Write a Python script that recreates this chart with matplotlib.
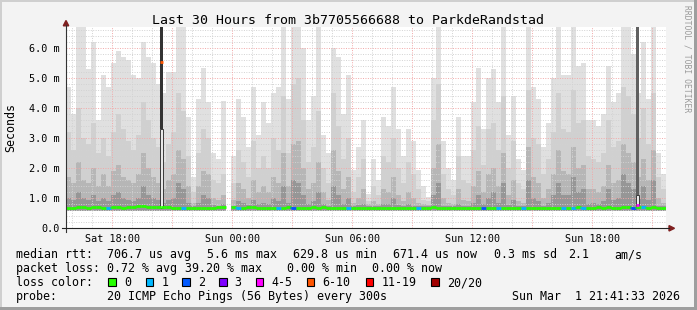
import numpy as np
import matplotlib
matplotlib.use("Agg")
import matplotlib.pyplot as plt
from matplotlib.patches import Rectangle, Polygon
from matplotlib.lines import Line2D

nan = float("nan")

# ------------------------------------------------------------------ data
title = "Last 30 Hours from 3b7705566688 to ParkdeRandstad"
start_clock_h = 15 + 41 / 60 + 33 / 3600      # Sat 15:41:33
span_h = 30
bin_h = 0.25                                   # 15 minute bins
y_top_ms = 6.7

# smoke layers (ms), lightest/outer first
smoke_max_ms = [
    4.7, 3.8, 6.7, 6.7, 5.3, 6.2, 3.6, 5.1, 4.7, 5.5,
    5.9, 5.7, 5.6, 5.1, 5.0, 6.2, 5.7, 5.5, 4.8, 4.5,
    5.2, 5.2, 6.7, 6.7, 3.7, 1.7, 4.3, 5.35, 4.2, 2.5,
    2.3, 4.25, nan, 2.4, 4.3, 3.7, 2.7, 4.7, 3.1, 4.2,
    3.5, 4.5, 4.7, 6.7, 4.3, 6.7, 6.7, 6.0, 3.6, 4.4,
    6.7, 3.1, 2.5, 6.0, 5.7, 3.8, 5.1, 1.95, 2.7, 3.6,
    1.15, 2.3, 1.6, 3.7, 3.4, 4.7, 3.3, 2.4, 3.3, 2.9,
    1.95, 1.4, 1.05, 5.0, 6.7, 2.9, 2.0, 1.6, 3.7, 2.4,
    2.4, 4.2, 5.35, 3.3, 5.0, 5.3, 4.2, 6.7, 3.1, 4.4,
    2.3, 1.95, 6.7, 4.7, 4.3, 2.7, 3.5, 5.0, 6.7, 5.1,
    5.1, 6.7, 5.4, 5.5, 3.6, 3.6, 3.4, 3.8, 5.4, 4.2,
    4.5, 6.7, 6.7, 5.8, 4.5, 6.2, 4.3, 6.7, 2.5, 1.8,
]
smoke_p2_ms = [
    3.2, 2.6, 4.0, 3.0, 2.8, 3.5, 2.5, 3.0, 2.4, 3.2,
    3.8, 3.3, 2.9, 2.6, 3.1, 4.2, 3.6, 3.0, 2.7, 2.2,
    2.8, 3.2, 4.5, 3.9, 2.4, 1.2, 2.5, 3.3, 3.0, 1.6,
    1.5, 1.8, nan, 1.5, 2.6, 2.2, 1.7, 2.9, 2.0, 2.4,
    2.0, 3.0, 2.6, 4.4, 2.5, 4.8, 5.0, 3.6, 2.2, 2.7,
    3.9, 2.0, 1.5, 4.5, 3.4, 2.3, 3.0, 1.2, 1.7, 2.3,
    0.9, 1.4, 1.1, 2.4, 2.2, 3.0, 2.0, 1.5, 2.2, 1.8,
    1.3, 0.95, 0.9, 3.6, 4.8, 1.8, 1.3, 1.1, 2.4, 1.6,
    1.5, 2.6, 3.4, 2.1, 3.3, 3.5, 2.6, 4.4, 2.0, 2.9,
    1.5, 1.3, 4.6, 3.0, 2.8, 1.8, 2.3, 3.2, 4.5, 3.3,
    3.2, 4.6, 3.5, 3.6, 2.4, 2.3, 2.2, 2.5, 3.6, 2.7,
    2.9, 4.7, 4.4, 3.8, 3.0, 4.0, 2.8, 4.5, 1.7, 1.3,
]
smoke_p3_ms = [
    1.7, 1.5, 2.2, 1.6, 1.5, 2.0, 1.4, 1.8, 1.4, 1.9,
    2.1, 1.7, 1.6, 1.5, 1.8, 2.5, 2.0, 1.7, 1.5, 1.3,
    1.6, 1.8, 2.6, 2.3, 1.4, 0.85, 1.4, 1.9, 1.8, 1.0,
    0.95, 1.1, nan, 0.95, 1.5, 1.3, 1.0, 1.6, 1.2, 1.4,
    1.2, 1.7, 1.5, 2.5, 1.4, 2.8, 2.9, 2.0, 1.3, 1.5,
    2.2, 1.2, 0.95, 2.6, 1.9, 1.3, 1.7, 0.85, 1.0, 1.3,
    0.8, 0.9, 0.8, 1.3, 1.2, 1.7, 1.1, 0.9, 1.2, 1.0,
    0.85, 0.8, 0.78, 2.0, 2.8, 1.0, 0.85, 0.8, 1.3, 0.95,
    0.9, 1.4, 1.9, 1.2, 1.8, 2.0, 1.4, 2.5, 1.1, 1.6,
    0.9, 0.85, 2.7, 1.7, 1.5, 1.0, 1.3, 1.8, 2.6, 1.9,
    1.8, 2.7, 2.0, 2.1, 1.3, 1.3, 1.2, 1.4, 2.1, 1.5,
    1.6, 2.8, 2.5, 2.2, 1.7, 2.3, 1.6, 2.6, 1.0, 0.85,
]
smoke_p4_ms = [
    1.0, 0.95, 1.2, 1.0, 0.95, 1.1, 0.9, 1.0, 0.9, 1.1,
    1.2, 1.0, 0.95, 0.9, 1.0, 1.4, 1.1, 1.0, 0.95, 0.85,
    0.95, 1.0, 1.5, 1.3, 0.85, 0.75, 0.85, 1.1, 1.0, 0.78,
    0.76, 0.8, nan, 0.76, 0.9, 0.85, 0.78, 0.95, 0.8, 0.85,
    0.8, 1.0, 0.9, 1.4, 0.85, 1.6, 1.5, 1.1, 0.8, 0.9,
    1.2, 0.8, 0.76, 1.4, 1.1, 0.8, 1.0, 0.75, 0.77, 0.8,
    0.74, 0.75, 0.74, 0.8, 0.8, 1.0, 0.78, 0.75, 0.8, 0.76,
    0.74, 0.74, 0.73, 1.1, 1.5, 0.76, 0.74, 0.74, 0.8, 0.75,
    0.75, 0.85, 1.1, 0.8, 1.0, 1.2, 0.85, 1.5, 0.78, 0.95,
    0.75, 0.74, 1.6, 1.0, 0.9, 0.76, 0.85, 1.1, 1.5, 1.1,
    1.1, 1.7, 1.2, 1.3, 0.8, 0.85, 0.8, 0.9, 1.3, 0.95,
    1.0, 1.8, 1.5, 1.3, 1.0, 1.4, 0.95, 1.6, 0.75, 0.74,
]
smoke_floor_ms = 0.58

median_ms = [
    0.68, 0.69, 0.70, 0.70, 0.69, 0.71, 0.70, 0.69, 0.68, 0.70,
    0.70, 0.69, 0.70, 0.72, 0.74, 0.73, 0.70, 0.71, 0.70, 0.71,
    0.70, 0.69, 0.68, 0.68, 0.69, 0.68, 0.68, 0.69, 0.68, 0.68,
    0.70, 0.70, nan, 0.70, 0.69, 0.69, 0.70, 0.71, 0.69, 0.69,
    0.69, 0.69, 0.68, 0.69, 0.70, 0.68, 0.68, 0.69, 0.69, 0.70,
    0.69, 0.70, 0.69, 0.68, 0.69, 0.68, 0.69, 0.69, 0.68, 0.68,
    0.68, 0.69, 0.68, 0.69, 0.68, 0.68, 0.68, 0.69, 0.68, 0.68,
    0.69, 0.68, 0.69, 0.70, 0.69, 0.69, 0.68, 0.68, 0.69, 0.69,
    0.68, 0.69, 0.69, 0.68, 0.69, 0.68, 0.69, 0.68, 0.69, 0.68,
    0.69, 0.68, 0.69, 0.69, 0.68, 0.69, 0.68, 0.69, 0.68, 0.69,
    0.69, 0.69, 0.70, 0.69, 0.68, 0.69, 0.70, 0.69, 0.70, 0.69,
    0.69, 0.70, 0.70, 0.69, 0.72, 0.70, 0.69, 0.70, 0.69, 0.69,
]
loss_class = [
    0, 0, 0, 0, 0, 0, 0, 0, 1, 0,
    0, 0, 0, 0, 0, 0, 0, 0, 0, 0,
    0, 0, 0, 1, 0, 0, 0, 0, 0, 0,
    0, 0, 0, 0, 1, 0, 0, 0, 0, 0,
    0, 0, 1, 0, 0, 2, 0, 0, 0, 0,
    0, 0, 0, 0, 0, 0, 1, 0, 0, 0,
    0, 0, 0, 0, 0, 0, 0, 0, 0, 0,
    1, 0, 0, 0, 0, 0, 0, 0, 0, 0,
    0, 0, 0, 2, 0, 0, 1, 0, 0, 0,
    0, 1, 0, 0, 0, 0, 0, 0, 0, 1,
    0, 1, 0, 1, 0, 0, 0, 0, 0, 0,
    0, 0, 0, 2, 0, 1, 0, 0, 0, 0,
]

# short high-latency / high-loss events
event_start_h = [4.70, 28.50]
event_end_h = [4.85, 28.65]
event_dark_from_ms = [3.3, 1.1]
event_top_ms = [6.7, 6.7]
event_median_ms = [5.55, 0.78]
event_loss_class = [5, 4]

loss_labels = ["0", "1", "2", "3", "4-5", "6-10", "11-19", "20/20"]
loss_colors = ["#26ff00", "#00b8ff", "#0059ff", "#7e00ff",
               "#ff00ff", "#ff5500", "#ff0000", "#a10000"]

x_tick_clock = [18, 24, 30, 36, 42]
x_tick_labels = ["Sat 18:00", "Sun 00:00", "Sun 06:00", "Sun 12:00", "Sun 18:00"]
y_tick_values = [0, 1, 2, 3, 4, 5, 6]
y_tick_labels = ["0.0", "1.0 m", "2.0 m", "3.0 m", "4.0 m", "5.0 m", "6.0 m"]

# ------------------------------------------------------------------ layout
W, H, DPI = 697, 310, 100
MONO = "DejaVu Sans Mono"


def fx(x):
    return x / W


def fy(y):
    return 1 - y / H


fig = plt.figure(figsize=(W / DPI, H / DPI), dpi=DPI, facecolor="#f3f3f3")
ax = fig.add_axes([fx(66), fy(228.3), 600 / W, 201 / H], facecolor="white")
ax.set_xlim(0, span_h)
ax.set_ylim(0, y_top_ms)
for s in ax.spines.values():
    s.set_visible(False)

# smoke
t_left = np.arange(len(smoke_max_ms)) * bin_h
for vals, col in [(smoke_max_ms, "#e0e0e0"), (smoke_p2_ms, "#d0d0d0"),
                  (smoke_p3_ms, "#b6b6b6"), (smoke_p4_ms, "#969696")]:
    v = np.array(vals, float)
    ok = ~np.isnan(v)
    ax.bar(t_left[ok], v[ok] - smoke_floor_ms, bottom=smoke_floor_ms,
           width=bin_h, align="edge", color=col, linewidth=0, zorder=1)

# grid (drawn over smoke, like rrdtool)
grid_c, mgrid_c = "#d2d2d2", "#f2a8a8"
dots = (0, (1, 1.5))
for k in range(1, int(y_top_ms / 0.2) + 1):
    yv = k * 0.2
    major = abs(yv - round(yv)) < 1e-6
    ax.axhline(yv, color=mgrid_c if major else grid_c, lw=0.7, ls=dots, zorder=2)
for h in range(16, 46):
    t = h - start_clock_h
    if 0 < t < span_h:
        ax.axvline(t, color=mgrid_c if h % 3 == 0 else grid_c, lw=0.7, ls=dots, zorder=2)

# events (solid, above the grid)
for s0, s1, dfrom in zip(event_start_h, event_end_h, event_dark_from_ms):
    ax.add_patch(Rectangle((s0, smoke_floor_ms + 0.1), s1 - s0, dfrom - smoke_floor_ms - 0.1,
                           facecolor="#e8e8e8", edgecolor="#3a3a3a", lw=0.7, zorder=3))
ax.bar(event_start_h, np.array(event_top_ms) - np.array(event_dark_from_ms),
       bottom=event_dark_from_ms, width=np.array(event_end_h) - np.array(event_start_h),
       align="edge", color=["#333333", "#606060"], linewidth=0, zorder=3.1)

# median line coloured by loss
med = np.array(median_ms, float)
cols = [loss_colors[c] for c in loss_class]
ok = ~np.isnan(med)
ax.hlines(med[ok], t_left[ok], t_left[ok] + bin_h, colors=np.array(cols)[ok], lw=2.0, zorder=4)
for i in range(1, len(med)):
    if ok[i] and ok[i - 1] and med[i] != med[i - 1]:
        ax.vlines(t_left[i], med[i - 1], med[i], colors=cols[i], lw=2.0, zorder=4)
for s0, s1, m, c in zip(event_start_h, event_end_h, event_median_ms, event_loss_class):
    ax.hlines(m, s0, s1, colors=loss_colors[c], lw=2.0, zorder=5)

# ticks
ax.set_xticks([h - start_clock_h for h in x_tick_clock])
ax.set_xticklabels(x_tick_labels, family=MONO, fontsize=7.3)
ax.set_yticks(y_tick_values)
ax.set_yticklabels(y_tick_labels, family=MONO, fontsize=7.3)
ax.tick_params(axis="x", length=0, pad=3.8)
ax.tick_params(axis="y", length=0, pad=4.8)

# axes lines + arrows
fig.add_artist(Line2D([fx(66), fx(66)], [fy(231.5), fy(25)], color="#333333", lw=0.8))
fig.add_artist(Line2D([fx(62), fx(669)], [fy(228.3), fy(228.3)], color="#222222", lw=0.8))
fig.add_artist(Polygon([(fx(63.3), fy(25.8)), (fx(68.7), fy(25.8)), (fx(66), fy(20.5))],
                       closed=True, color="#7f1f1f", transform=fig.transFigure))
fig.add_artist(Polygon([(fx(669), fy(225.6)), (fx(669), fy(231.0)), (fx(674.5), fy(228.3))],
                       closed=True, color="#7f1f1f", transform=fig.transFigure))

# titles
fig.text(fx(348), fy(24), title, ha="center", va="baseline", family=MONO, fontsize=9.5)
fig.text(fx(10.5), fy(127), "Seconds", rotation=90, ha="center", va="center",
         family=MONO, fontsize=8.4)
fig.text(fx(687.5), fy(5), "RRDTOOL / TOBI OETIKER", rotation=270, ha="center", va="top",
         family=MONO, fontsize=5.8, color="#9a9a9a")

# legend block
LS = 8.4
rows = [
    (258, [(16, "median rtt:"), (107.3, "706.7 us avg"), (206.7, "5.6 ms max"),
           (293.3, "629.8 us min"), (393.3, "671.4 us now"), (494, "0.3 ms sd"),
           (567.7, "2.1"), (614.3, "am/s")]),
    (272, [(16, "packet loss:"), (107.3, "0.72 % avg"), (185, "39.20 % max"),
           (286.7, "0.00 % min"), (372.3, "0.00 % now")]),
    (286, [(16, "loss color:")]),
    (300, [(16, "probe:"), (107.3, "20 ICMP Echo Pings (56 Bytes) every 300s")]),
]
for yb, items in rows:
    for xp, s in items:
        fig.text(fx(xp), fy(yb), s, ha="left", va="baseline", family=MONO, fontsize=LS)
fig.text(fx(680.5), fy(300), "Sun Mar  1 21:41:33 2026", ha="right", va="baseline",
         family=MONO, fontsize=LS)

box_x = [108.3, 145.5, 182.3, 219, 255.7, 306.7, 365.7, 431]
for bx, lab, col in zip(box_x, loss_labels, loss_colors):
    fig.add_artist(Rectangle((fx(bx), fy(286.3)), 7.6 / W, 8.5 / H, transform=fig.transFigure,
                             facecolor=col, edgecolor="black", lw=0.8))
    fig.text(fx(bx + 15.7), fy(286), lab, ha="left", va="baseline", family=MONO, fontsize=LS)

# 3-D frame
fig.add_artist(Rectangle((0, 1 - 2 / H), 1, 2 / H, transform=fig.transFigure, color="#cfcfcf", lw=0))
fig.add_artist(Rectangle((0, 0), 2 / W, 1, transform=fig.transFigure, color="#cfcfcf", lw=0))
fig.add_artist(Rectangle((0, 0), 1, 3 / H, transform=fig.transFigure, color="#9e9e9e", lw=0))
fig.add_artist(Rectangle((1 - 3 / W, 0), 3 / W, 1, transform=fig.transFigure, color="#9e9e9e", lw=0))

fig.savefig("out.png", dpi=DPI, facecolor=fig.get_facecolor())
